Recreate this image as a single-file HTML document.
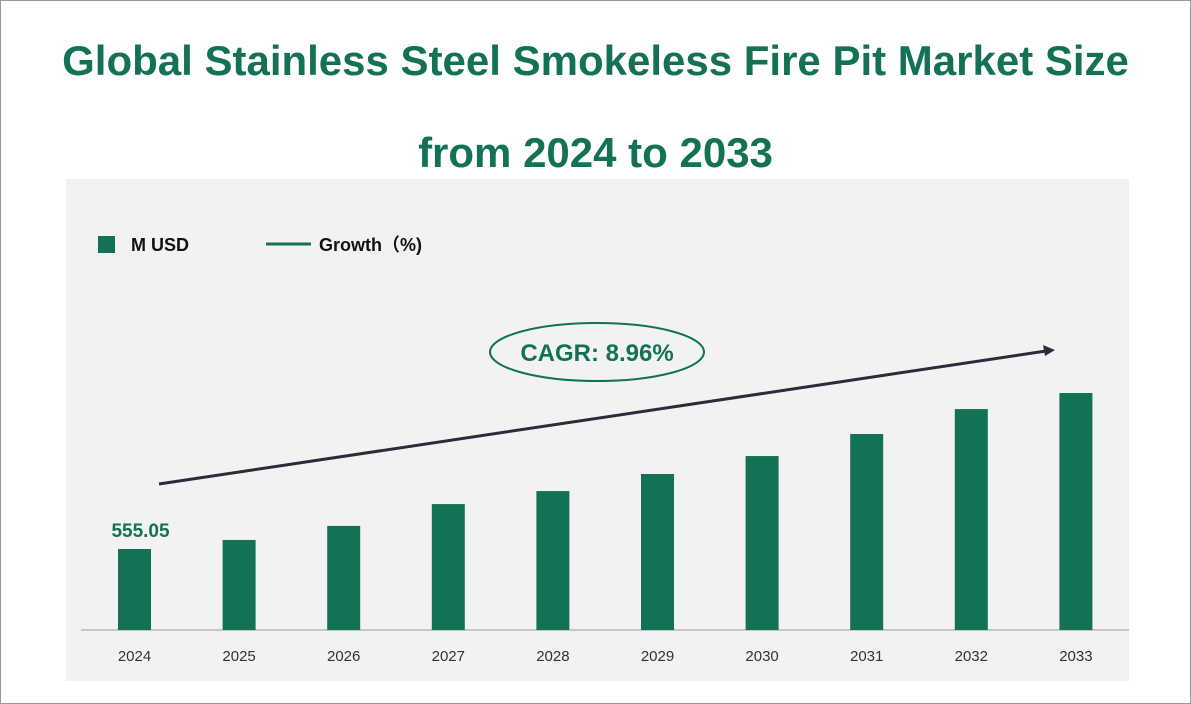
<!DOCTYPE html>
<html><head><meta charset="utf-8"><style>
body{margin:0;background:#fff;}
#wrap{position:relative;width:1189px;height:702px;border:1px solid #999;background:#fff;font-family:"Liberation Sans",sans-serif;overflow:hidden}
.title{position:absolute;left:0;width:1189px;text-align:center;color:#137155;font-weight:bold;font-size:42px;}
</style></head><body>
<div id="wrap">
<div class="title" style="top:36px">Global Stainless Steel Smokeless Fire Pit Market Size</div>
<div class="title" style="top:128px">from 2024 to 2033</div>
<svg id="chart" width="1189" height="702" style="position:absolute;left:0;top:0">
<rect x="65" y="178" width="1063" height="502" fill="#f2f2f2"/>
<rect x="97" y="235" width="17" height="17" fill="#137155"/>
<text x="130" y="250" font-size="18" font-weight="bold" fill="#111" font-family="Liberation Sans, sans-serif">M USD</text>
<line x1="265" y1="243" x2="310" y2="243" stroke="#137155" stroke-width="3"/>
<text x="318" y="250" font-size="18" font-weight="bold" fill="#111" font-family="Liberation Sans, Noto Sans CJK SC, sans-serif">Growth（%)</text>
<line x1="80" y1="629" x2="1128" y2="629" stroke="#999" stroke-width="1"/>
<g id="bars"></g>
<line x1="158" y1="483" x2="1045" y2="350" stroke="#2b2b3a" stroke-width="3"/>
<polygon points="1054,349 1042,344 1044,355" fill="#2b2b3a"/>
<ellipse cx="596" cy="351" rx="107" ry="29" fill="#f2f2f2" stroke="#137155" stroke-width="2"/>
<text x="596" y="360" text-anchor="middle" font-size="24" font-weight="bold" fill="#137155" font-family="Liberation Sans, sans-serif">CAGR: 8.96%</text>
</svg>
</div>
<script>
const categories=["2024","2025","2026","2027","2028","2029","2030","2031","2032","2033"];
const values=[555.05,617,713,863,952,1069,1192,1343,1514,1624];
const firstLabel="555.05";
const ns="http://www.w3.org/2000/svg";
const g=document.getElementById("bars");
const baseY=629, scale=81/555.05;
function xc(i){return 133.5+i*104.6;}
function yv(v){return baseY-v*scale;}
categories.forEach((c,i)=>{
  const r=document.createElementNS(ns,"rect");
  r.setAttribute("x",xc(i)-16.5);r.setAttribute("width",33);
  r.setAttribute("y",yv(values[i]));r.setAttribute("height",baseY-yv(values[i]));
  r.setAttribute("fill","#137155");
  
  
  g.appendChild(r);
  const t=document.createElementNS(ns,"text");
  t.setAttribute("x",xc(i));t.setAttribute("y",660);t.setAttribute("text-anchor","middle");
  t.setAttribute("font-size","15");t.setAttribute("fill","#333");t.setAttribute("font-family","Liberation Sans, sans-serif");
  t.textContent=c;
  
  
  g.appendChild(t);
});
const l=document.createElementNS(ns,"text");
l.setAttribute("x",xc(0)+6);l.setAttribute("y",yv(values[0])-12);l.setAttribute("text-anchor","middle");
l.setAttribute("font-size","19");l.setAttribute("font-weight","bold");l.setAttribute("fill","#137155");l.setAttribute("font-family","Liberation Sans, sans-serif");
l.textContent=firstLabel;


g.appendChild(l);
</script>
</body></html>
